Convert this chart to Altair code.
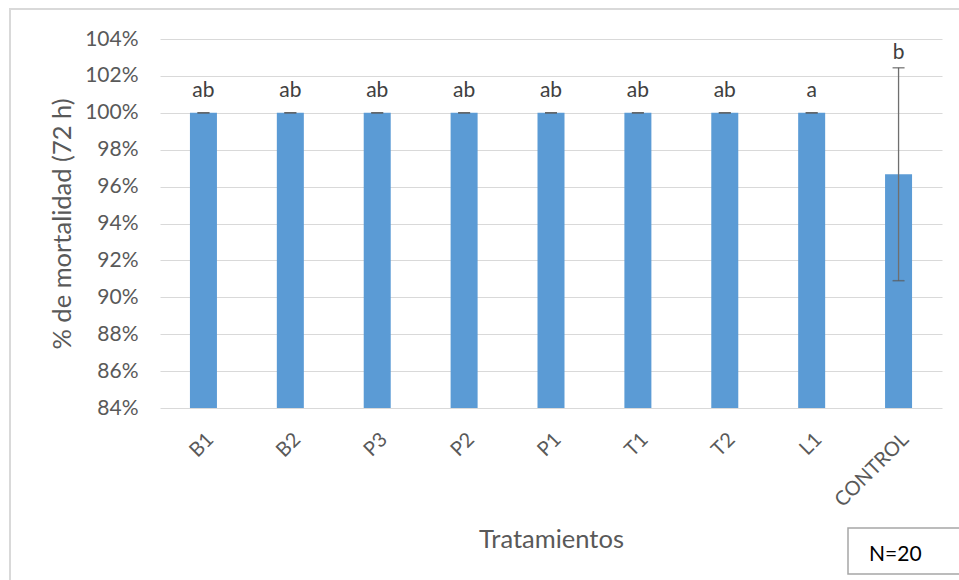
import altair as alt
import pandas as pd

categories = ["B1", "B2", "P3", "P2", "P1", "T1", "T2", "L1", "CONTROL"]
means = [100, 100, 100, 100, 100, 100, 100, 100, 96.67]
errors = [0, 0, 0, 0, 0, 0, 0, 0, 5.77]
letters = ["ab", "ab", "ab", "ab", "ab", "ab", "ab", "a", "b"]
y_ticks = [84, 86, 88, 90, 92, 94, 96, 98, 100, 102, 104]

FONT = "Lato"
W, H = 782, 369

df = pd.DataFrame({"cat": categories, "mean": means, "err": errors, "letter": letters})
df["lower"] = df["mean"] - df["err"]
df["upper"] = df["mean"] + df["err"]

x_axis = alt.Axis(
    title="Tratamientos",
    labelAngle=-45,
    labelFontSize=20,
    labelColor="#595959",
    labelFont=FONT,
    labelPadding=21,
    labelOverlap=False,
    ticks=False,
    domain=False,
    titleFontSize=25.5,
    titleFontWeight="normal",
    titleColor="#595959",
    titleFont=FONT,
    titleY=139,
    titleBaseline="alphabetic",
)
y_axis = alt.Axis(
    title="% de mortalidad (72 h)",
    values=y_ticks,
    tickCount=11,
    labelExpr="datum.value + '%'",
    labelFontSize=21,
    labelColor="#595959",
    labelFont=FONT,
    labelPadding=22,
    labelOverlap=False,
    ticks=False,
    domain=False,
    gridColor="#d9d9d9",
    gridWidth=1,
    titleFontSize=25.5,
    titleFontWeight="normal",
    titleColor="#595959",
    titleFont=FONT,
    titleX=-98,
    titleBaseline="middle",
)
x_scale = alt.Scale(paddingInner=0, paddingOuter=0)
y_scale = alt.Scale(domain=[84, 104], zero=False, nice=False)


def X():
    return alt.X("cat:N", sort=categories, scale=x_scale, axis=x_axis)


def Y(field):
    return alt.Y(field, type="quantitative", scale=y_scale, axis=y_axis)


base = alt.Chart(df)

bars = base.mark_bar(size=27, color="#5b9bd5").encode(
    x=X(), y=Y("mean"), y2=alt.datum(84)
)

err_line = base.transform_filter("datum.err > 0").mark_rule(
    color="#6f6f6f", strokeWidth=1.3
).encode(x=X(), y=Y("lower"), y2="upper:Q")

cap_up = base.mark_tick(size=12, thickness=1.5, color="#595959").encode(
    x=X(), y=Y("upper")
)
cap_lo = base.mark_tick(size=12, thickness=1.5, color="#595959").encode(
    x=X(), y=Y("lower")
)

lbl_a = base.transform_filter("datum.err == 0").mark_text(
    dy=-16, baseline="alphabetic", fontSize=21, font=FONT, color="#404040"
).encode(x=X(), y=Y("upper"), text="letter:N")
lbl_b = base.transform_filter("datum.err > 0").mark_text(
    dy=-9, baseline="alphabetic", fontSize=21, font=FONT, color="#404040"
).encode(x=X(), y=Y("upper"), text="letter:N")

dummy = alt.Chart(pd.DataFrame({"k": [0]}))
border = dummy.mark_rect(fill=None, stroke="#d9d9d9", strokeWidth=2).encode(
    x=alt.value(-150), x2=alt.value(815), y=alt.value(-30), y2=alt.value(560)
)
nbox = dummy.mark_rect(fill="white", stroke="#a6a6a6", strokeWidth=1.5).encode(
    x=alt.value(688), x2=alt.value(820), y=alt.value(489), y2=alt.value(535)
)
ntext = dummy.mark_text(
    text="N=20", align="left", baseline="alphabetic", fontSize=21, font=FONT, color="#000000"
).encode(x=alt.value(709), y=alt.value(522))

chart = alt.layer(
    border, bars, err_line, cap_up, cap_lo, lbl_a, lbl_b, nbox, ntext
).properties(
    width=W, height=H,
    background="white",
    autosize=alt.AutoSizeParams(type="none"),
    padding={"left": 160, "top": 39, "right": 17, "bottom": 172},
).configure_view(stroke=None)

chart.save("out.html", embed_options={"renderer": "svg", "actions": False})
